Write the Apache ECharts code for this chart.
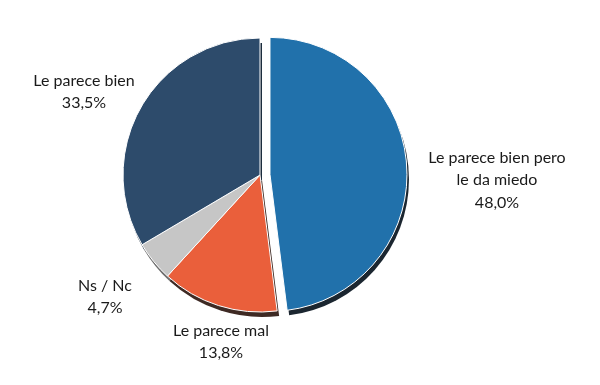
<!DOCTYPE html>
<html><head><meta charset="utf-8">
<script src="https://cdn.jsdelivr.net/npm/echarts@6/dist/echarts.min.js"></script>
<style>html,body{margin:0;padding:0;background:#fff}#c{width:600px;height:385px}</style>
</head><body><div id="c"></div>
<script>
const categories = ['Le parece bien pero\nle da miedo', 'Le parece mal', 'Ns / Nc', 'Le parece bien'];
const values = [48.0, 13.8, 4.7, 33.5];
const colors = ['#2171ab', '#ea5f3b', '#c6c6c6', '#2d4b6b'];
const depthColors = ['#1b2630', '#3e2a24', '#6e6e6e', '#1c2d3e'];
const labelPos = [[497, 180], [221, 342], [105, 297], [84, 92]];

const chart = echarts.init(document.getElementById('c'));
const fmt = v => v.toFixed(1).replace('.', ',') + '%';
chart.setOption({
  animation: false,
  series: [
    {
      type: 'pie', silent: true, z: 1,
      center: [262, 180], radius: 137, startAngle: 90, clockwise: true,
      selectedMode: 'single', selectedOffset: 10,
      label: { show: false }, labelLine: { show: false },
      data: values.map((v, i) => ({ value: v, name: categories[i], selected: i === 0, itemStyle: { color: depthColors[i] } }))
    },
    {
      type: 'pie', z: 2, silent: true,
      center: [260, 175], radius: 137, startAngle: 90, clockwise: true,
      selectedMode: 'single', selectedOffset: 10,
      itemStyle: { borderColor: '#ffffff', borderWidth: 1 },
      label: { show: false }, labelLine: { show: false },
      data: values.map((v, i) => ({ value: v, name: categories[i], selected: i === 0, itemStyle: { color: colors[i] } }))
    },
    {
      type: 'pie', z: 3, silent: true,
      center: [260, 175], radius: 137, startAngle: 90, clockwise: true,
      itemStyle: { color: 'rgba(0,0,0,0)' },
      labelLine: { show: false },
      label: {
        show: true, position: 'inside', overflow: 'none',
        fontFamily: 'Lato', fontSize: 16, color: '#1a1a1a', lineHeight: 22.5, align: 'center',
        formatter: p => p.name + '\n' + fmt(p.value)
      },
      labelLayout: p => ({ x: labelPos[p.dataIndex][0], y: labelPos[p.dataIndex][1], align: 'center', verticalAlign: 'middle' }),
      data: values.map((v, i) => ({ value: v, name: categories[i] }))
    }
  ]
});
</script></body></html>
